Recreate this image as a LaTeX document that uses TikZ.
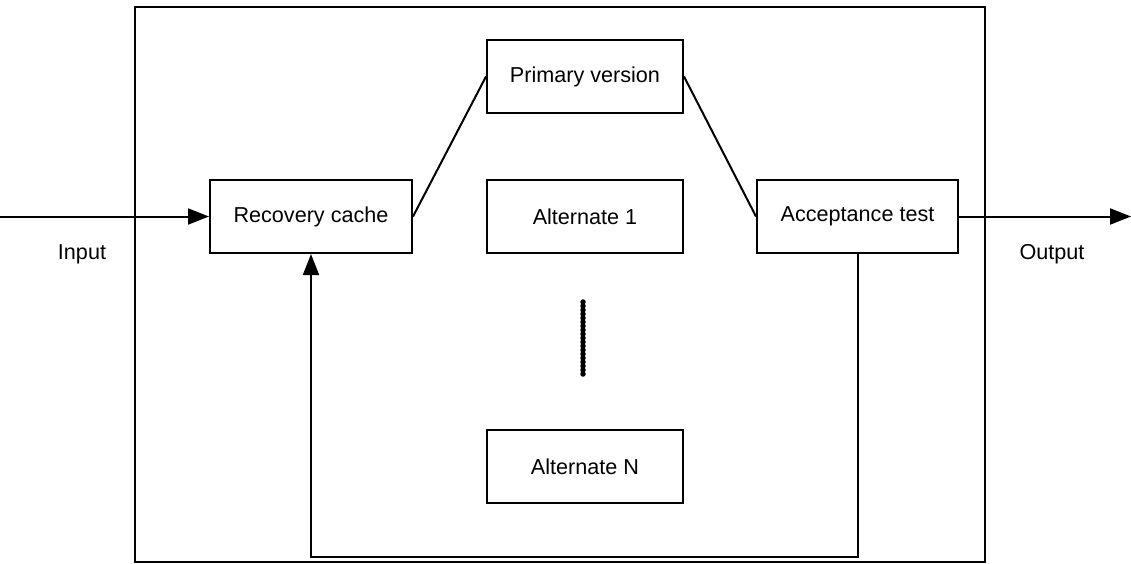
\documentclass[tikz,border=0pt]{standalone}
\usepackage{fontspec}
\setmainfont{Liberation Sans}
\usetikzlibrary{arrows.meta}
\begin{document}
\begin{tikzpicture}[x=1pt,y=-1pt,
  every node/.style={font=\fontsize{21.6}{26}\selectfont},
  blk/.style={draw, line width=2pt, minimum height=73pt, inner sep=0pt},
  link/.style={line width=2pt},
  flow/.style={line width=2pt, -{Triangle[length=21pt,width=16pt]}},
  dots/.style={line width=5.5pt, line cap=round, dash pattern=on 0pt off 4pt}]
  \useasboundingbox (0,0) rectangle (1131,563);
  % enclosing frame
  \draw[line width=2pt] (135,7) rectangle (985,562);
  % blocks
  \node[blk, minimum width=196pt] (prim) at (585,76.5) {Primary version};
  \node[blk, minimum width=202pt] (rec)  at (311,216.5) {Recovery cache};
  \node[blk, minimum width=196pt] (alt1) at (585,216.5) {Alternate 1};
  \node[blk, minimum width=201pt] (acc)  at (857.5,216.5) {Acceptance test};
  \node[blk, minimum width=196pt] (altn) at (585,466.5) {Alternate N};
  % external labels
  \node (inlbl)  at (82,254) {Input};
  \node (outlbl) at (1052,254) {Output};
  % ellipsis between alternates
  \coordinate (d1) at (583,302);
  \coordinate (d2) at (583,376);
  \draw[dots] (d1) -- (d2);
  % connections
  \coordinate (in)  at (0,216.5);
  \coordinate (out) at (1131,216.5);
  \coordinate (fb)  at (0,557);
  \draw[flow] (in) -- (rec.west);
  \draw[link] (rec.east) -- (prim.west);
  \draw[link] (prim.east) -- (acc.west);
  \draw[flow] (acc.east) -- (out);
  \draw[flow] (acc.south) -- (acc.south |- fb) -- (rec.south |- fb) -- (rec.south);
\end{tikzpicture}
\end{document}
